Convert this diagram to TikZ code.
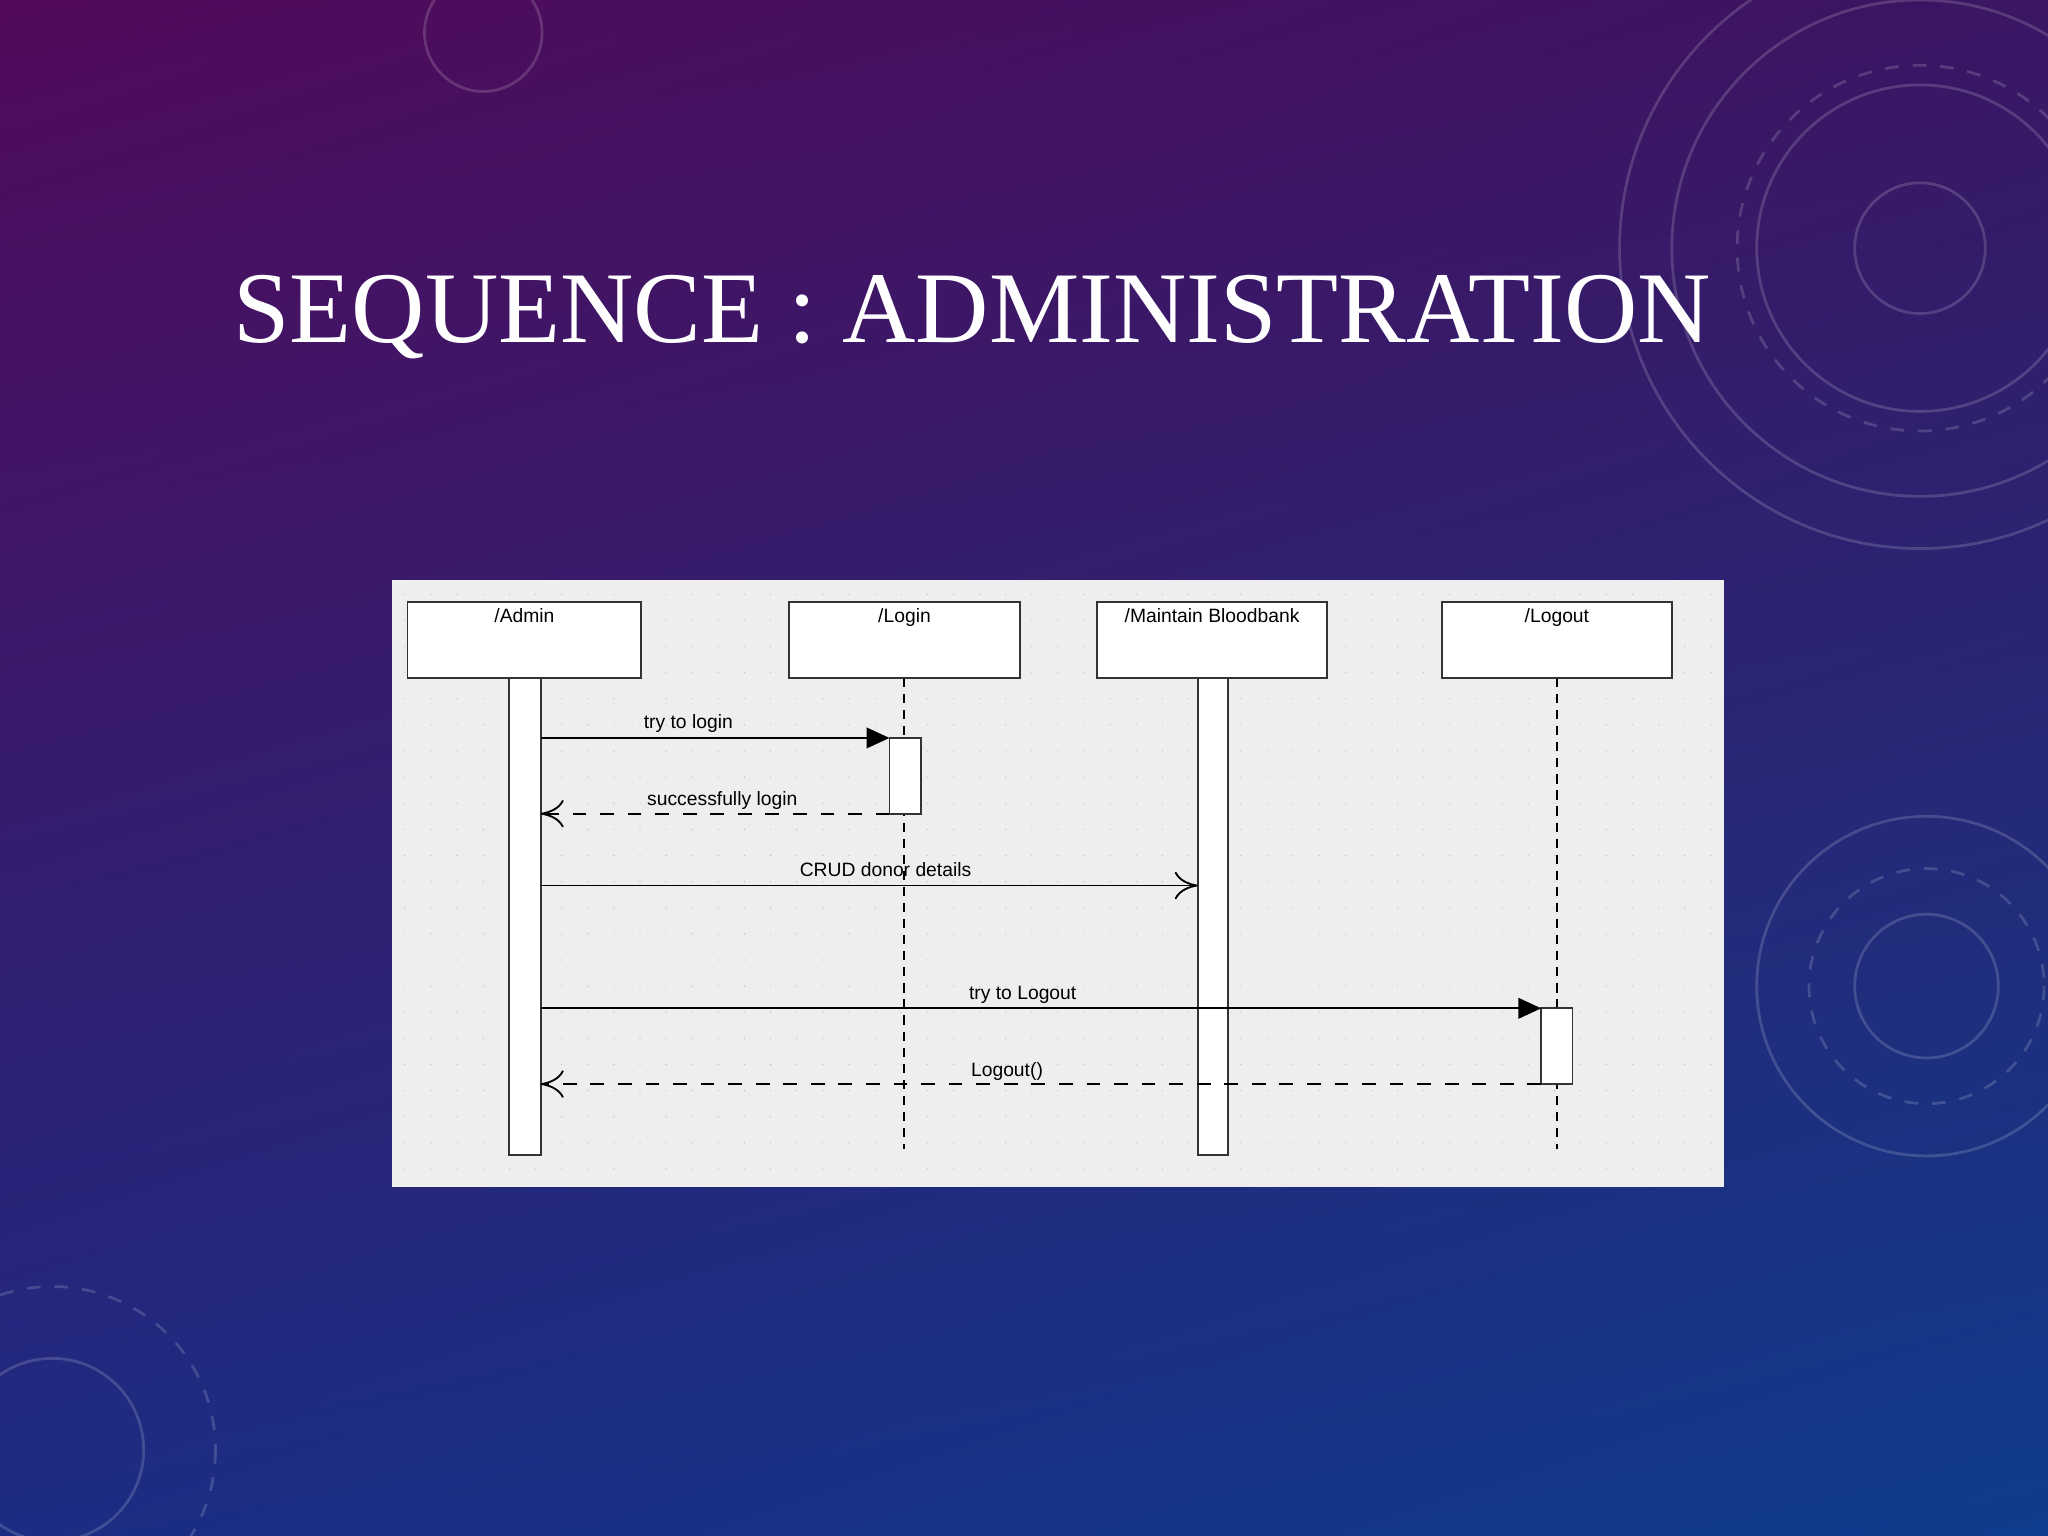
\documentclass[tikz,border=0pt]{standalone}
\usepackage{fontspec}
\setmainfont{Liberation Serif}
\newfontfamily\diag{Liberation Sans}
\usetikzlibrary{arrows.meta,shadings}
\definecolor{tl}{HTML}{520A5A}
\definecolor{tr}{HTML}{3A1663}
\definecolor{bl}{HTML}{1C2C82}
\definecolor{br}{HTML}{0F3C8C}
\definecolor{panel}{HTML}{EFEEEF}
\tikzset{
 hdr/.style={draw=black!80,fill=white,line width=0.4pt},
 bar/.style={draw=black!80,fill=white,line width=0.4pt},
 life/.style={line width=0.4pt,dash pattern=on 2pt off 1.5pt},
 msg/.style={line width=0.4pt},
 lbl/.style={font=\diag\fontsize{4.2}{5}\selectfont,inner sep=0pt},
 deco/.style={draw=white,opacity=0.16,line width=0.6pt}
}
\begin{document}
\begin{tikzpicture}[x=0.01cm,y=-0.01cm]
\useasboundingbox (0,0) rectangle (1568,1176);
\shade[upper left=tl,upper right=tr,lower left=bl,lower right=br] (0,0) rectangle (1568,1176);
% decorations
\draw[deco] (1470,190) circle (50);
\draw[deco] (1470,190) circle (125);
\draw[deco,dashed] (1470,190) circle (140);
\draw[deco] (1470,190) circle (230);
\draw[deco] (1470,190) circle (190);
\draw[deco] (1475,755) circle (55);
\draw[deco,dashed] (1475,755) circle (90);
\draw[deco] (1475,755) circle (130);
\draw[deco] (370,25) circle (45);
\draw[deco] (40,1110) circle (70);
\draw[deco,dashed] (40,1110) circle (125);
% title
\node[text=white,font=\fontsize{22.1}{26}\selectfont,anchor=base west,inner sep=0pt] (title) at (178,262) {SEQUENCE : ADMINISTRATION};
% panel
\fill[panel] (300,444) rectangle (1320,909);
\foreach \x in {310,330,...,1310}{\foreach \y in {455,475,...,900}{\fill[black!25] (\x,\y) circle (0.5);}}
% lifelines
\draw[life] (692,519) -- (692,880);
\draw[life] (1192,519) -- (1192,880);
\draw[bar] (390,519) rectangle (414,884);
\draw[bar] (917,519) rectangle (940,884);
\draw[bar] (681,565) rectangle (705,623);
\draw[bar] (1180,772) rectangle (1204,830);
% headers
\node[hdr,minimum width=1.79cm,minimum height=0.58cm] (admin) at (401.5,490) {};
\node[lbl,anchor=north] at (401.5,465) {/Admin};
\node[hdr,minimum width=1.77cm,minimum height=0.58cm] (login) at (692.5,490) {};
\node[lbl,anchor=north] at (692.5,465) {/Login};
\node[hdr,minimum width=1.76cm,minimum height=0.58cm] (maint) at (928,490) {};
\node[lbl,anchor=north] at (928,465) {/Maintain Bloodbank};
\node[hdr,minimum width=1.76cm,minimum height=0.58cm] (logout) at (1192,490) {};
\node[lbl,anchor=north] at (1192,465) {/Logout};
% messages
\coordinate (a1) at (414,565); \coordinate (b1) at (681,565);
\coordinate (a2) at (414,623); \coordinate (b2) at (681,623);
\coordinate (a3) at (414,678); \coordinate (b3) at (917,678);
\coordinate (a4) at (414,772); \coordinate (b4) at (1180,772);
\coordinate (a5) at (414,830); \coordinate (b5) at (1180,830);
\draw[msg,-{Triangle[length=5pt,width=4.5pt]}] (a1) -- (b1);
\node[lbl,anchor=base] at (527,558) {try to login};
\draw[msg,dashed,-{To[length=5pt,width=6pt]}] (b2) -- (a2);
\node[lbl,anchor=base] at (553,617) {successfully login};
\draw[msg,-{To[length=5pt,width=6pt]}] (a3) -- (b3);
\node[lbl,anchor=base] at (678,671) {CRUD donor details};
\draw[msg,-{Triangle[length=5pt,width=4.5pt]}] (a4) -- (b4);
\node[lbl,anchor=base] at (783,765) {try to Logout};
\draw[msg,dashed,-{To[length=5pt,width=6pt]}] (b5) -- (a5);
\node[lbl,anchor=base] at (771,824) {Logout()};
\end{tikzpicture}
\end{document}
